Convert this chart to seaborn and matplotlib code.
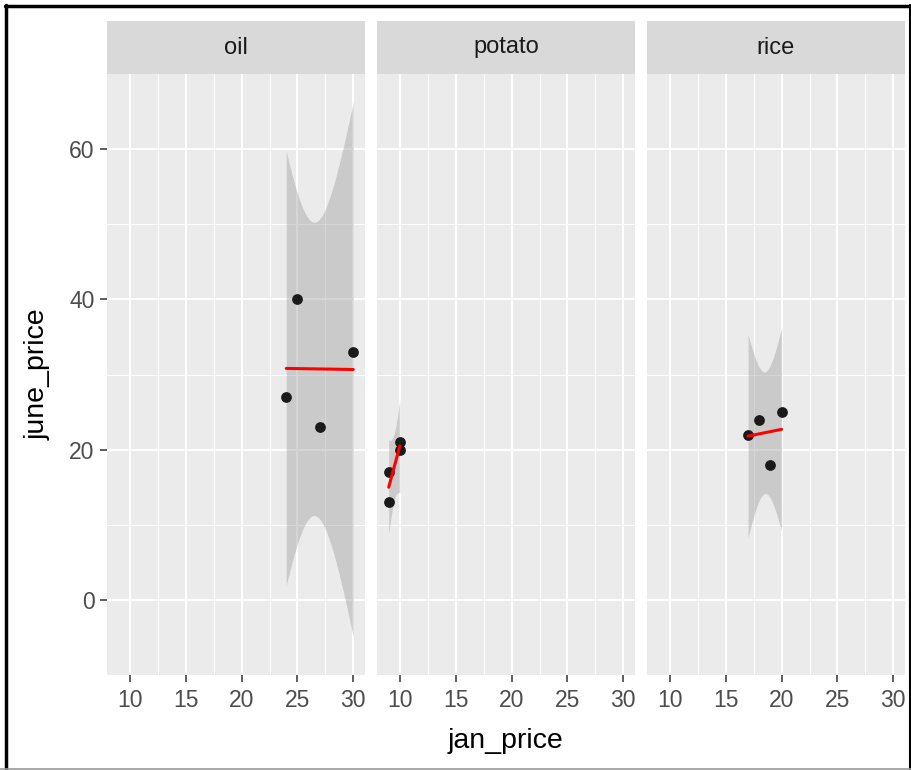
import matplotlib
matplotlib.use("Agg")
import matplotlib.pyplot as plt
import numpy as np
import pandas as pd
import seaborn as sns

# data
items = ["oil", "oil", "oil", "oil",
         "potato", "potato", "potato", "potato",
         "rice", "rice", "rice", "rice"]
jan_price = [24, 25, 27, 30, 9, 9, 10, 10, 17, 18, 19, 20]
june_price = [27, 40, 23, 33, 13, 17, 20, 21, 22, 24, 18, 25]
panels = ["oil", "potato", "rice"]
x_ticks = [10, 15, 20, 25, 30]
y_ticks = [0, 20, 40, 60]

# t quantile (0.975, df = n - 2 = 2) for the lm confidence band
T_CRIT = 4.302653

df = pd.DataFrame({"item": items, "jan_price": jan_price, "june_price": june_price})

sns.set_theme(style="darkgrid", rc={
    "axes.facecolor": "#EBEBEB",
    "grid.color": "white",
    "figure.facecolor": "white",
})
plt.rcParams["font.family"] = ["Liberation Sans", "DejaVu Sans"]


def lm_band(g):
    x = g["jan_price"].to_numpy(float)
    y = g["june_price"].to_numpy(float)
    n = len(x)
    mx, my = x.mean(), y.mean()
    sxx = ((x - mx) ** 2).sum()
    slope = ((x - mx) * (y - my)).sum() / sxx
    icpt = my - slope * mx
    resid = y - (icpt + slope * x)
    s = np.sqrt((resid ** 2).sum() / (n - 2))
    xs = np.linspace(x.min(), x.max(), 80)
    yhat = icpt + slope * xs
    se = s * np.sqrt(1 / n + (xs - mx) ** 2 / sxx)
    return xs, yhat, yhat - T_CRIT * se, yhat + T_CRIT * se


fits = {p: lm_band(df[df["item"] == p]) for p in panels}

W, H = 912, 770
fig = plt.figure(figsize=(W / 100, H / 100), dpi=100)
lefts = [107, 377, 647]
pw = 258
top, bottom, strip_top = 74, 675, 21

for i, p in enumerate(panels):
    ax = fig.add_axes([lefts[i] / W, 1 - bottom / H, pw / W, (bottom - top) / H])
    xs, yhat, ylo, yhi = fits[p]
    ax.fill_between(xs, ylo, yhi, color="#999999", alpha=0.4, linewidth=0)
    sub = df[df["item"] == p]
    sns.scatterplot(data=sub, x="jan_price", y="june_price", ax=ax,
                    color="#1a1a1a", s=60, linewidth=0, zorder=3)
    sns.lineplot(x=xs, y=yhat, ax=ax, color="red", linewidth=2.2, zorder=4)

    ax.set_xlim(7.95, 31.05)
    ax.set_ylim(-8.1, 70.0)
    ax.set_xticks(x_ticks)
    ax.set_xticks([12.5, 17.5, 22.5, 27.5], minor=True)
    ax.set_yticks(y_ticks)
    ax.set_yticks([-10, 10, 30, 50], minor=True)
    ax.grid(which="major", color="white", linewidth=1.4)
    ax.grid(which="minor", color="white", linewidth=0.7)
    ax.set_axisbelow(True)
    for s in ax.spines.values():
        s.set_visible(False)
    ax.set_xlabel("")
    ax.set_ylabel("")
    ax.tick_params(which="major", bottom=True, left=(i == 0), length=5,
                   width=1.1, color="#333333", labelcolor="#4D4D4D",
                   labelsize=16.5, labelleft=(i == 0))
    ax.tick_params(axis="x", which="major", pad=5)
    ax.tick_params(axis="y", which="major", pad=4)
    ax.tick_params(which="minor", length=0)

    # facet strip
    sax = fig.add_axes([lefts[i] / W, 1 - top / H, pw / W, (top - strip_top) / H])
    sax.set_facecolor("#D9D9D9")
    sax.set_xticks([])
    sax.set_yticks([])
    sax.grid(False)
    for s in sax.spines.values():
        s.set_visible(False)
    sax.text(0.5, 0.5, p, ha="center", va="center", fontsize=17,
             color="#1A1A1A", transform=sax.transAxes)

fig.text((107 + 905) / 2 / W, 1 - 741 / H, "jan_price", ha="center",
         va="center", fontsize=20.5, color="black")
fig.text(38 / W, 1 - (top + bottom) / 2 / H, "june_price", ha="center",
         va="center", rotation=90, fontsize=20.5, color="black")

# screenshot frame
fig.add_artist(plt.Line2D([6 / W, 6 / W], [0, 1 - 5 / H], color="black",
                          linewidth=2.5, transform=fig.transFigure))
fig.add_artist(plt.Line2D([5 / W, 910 / W], [1 - 6 / H, 1 - 6 / H],
                          color="black", linewidth=2.5, transform=fig.transFigure))
fig.add_artist(plt.Line2D([910 / W, 910 / W], [0, 1 - 5 / H], color="black",
                          linewidth=1.5, transform=fig.transFigure))
fig.add_artist(plt.Line2D([0, 1], [1.5 / H, 1.5 / H], color="#999999",
                          linewidth=1.2, transform=fig.transFigure))

fig.savefig("out.png", dpi=100, facecolor="white")
